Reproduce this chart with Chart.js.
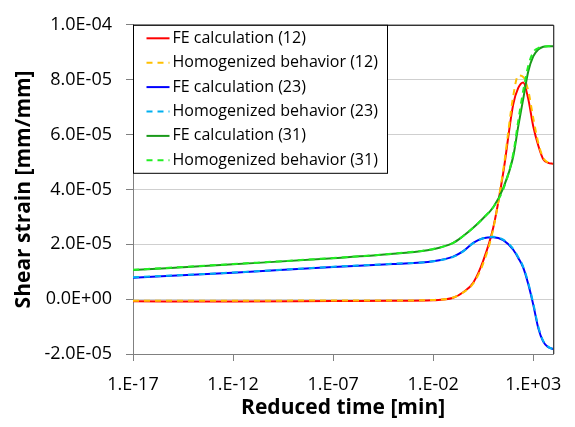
<!DOCTYPE html>
<html>
<head>
<meta charset="utf-8">
<script src="https://cdn.jsdelivr.net/npm/chart.js@4"></script>
<style>
  html, body { margin: 0; padding: 0; background: #fff; }
  #wrap { width: 575px; height: 427px; }
</style>
</head>
<body>
<div id="wrap"><canvas id="chart" width="575" height="427"></canvas></div>
<script>
// reduced time [min], log axis
const times = [1e-17, 1e-12, 1e-7, 1e-4, 1e-2, 1e-1, 0.316, 1, 3.16, 10, 31.6, 100, 178, 316, 562, 1000, 1780, 3160, 5620, 10000];

// shear strain, in units of 1E-05 mm/mm
const fe12  = [-0.08, -0.09, -0.07, -0.06, -0.04, 0.05, 0.25, 0.6, 1.4, 2.6, 4.6, 7.1, 7.7, 7.9, 7.3, 6.3, 5.6, 5.1, 4.97, 4.93];
const hom12 = [-0.06, -0.06, -0.05, -0.05, -0.03, 0.06, 0.24, 0.57, 1.3, 2.55, 4.7, 7.4, 8.15, 8.1, 7.6, 6.6, 5.7, 5.15, 4.98, 4.93];
const fe23  = [0.78, 0.96, 1.17, 1.28, 1.38, 1.55, 1.75, 2.05, 2.22, 2.26, 2.15, 1.8, 1.5, 1.15, 0.55, -0.2, -1.05, -1.55, -1.75, -1.82];
const hom23 = [0.8, 0.97, 1.18, 1.29, 1.38, 1.54, 1.74, 2.04, 2.22, 2.27, 2.17, 1.83, 1.53, 1.18, 0.6, -0.15, -1.0, -1.52, -1.74, -1.83];
const fe31  = [1.06, 1.27, 1.49, 1.65, 1.82, 2.05, 2.3, 2.6, 2.95, 3.35, 4.05, 5.2, 6.3, 7.3, 8.3, 8.85, 9.1, 9.2, 9.22, 9.22];
const hom31 = [1.07, 1.28, 1.5, 1.66, 1.83, 2.05, 2.3, 2.6, 2.95, 3.35, 4.0, 5.3, 6.5, 7.6, 8.5, 9.0, 9.15, 9.2, 9.22, 9.22];

const labels = ['FE calculation (12)', 'Homogenized behavior (12)', 'FE calculation (23)',
                'Homogenized behavior (23)', 'FE calculation (31)', 'Homogenized behavior (31)'];
const colors = ['#ff0000', '#ffc000', '#0000ff', '#00b0f0', '#1a9a1a', '#22ee22'];
const dashed = [false, true, false, true, false, true];

const xTickValues = [1e-17, 1e-12, 1e-7, 1e-2, 1e3];
const xTickLabels = ['1.E-17', '1.E-12', '1.E-07', '1.E-02', '1.E+03'];
const yTickValues = [-2e-5, 0, 2e-5, 4e-5, 6e-5, 8e-5, 1e-4];
const yTickLabels = ['-2.0E-05', '0.0E+00', '2.0E-05', '4.0E-05', '6.0E-05', '8.0E-05', '1.0E-04'];

const UNIT = 1e-5;
const series = [fe12, hom12, fe23, hom23, fe31, hom31];

const datasets = series.map((vals, i) => ({
    label: labels[i],
    data: vals.map((v, j) => ({ x: times[j], y: v * UNIT })),
    borderColor: colors[i],
    borderWidth: 2,
    borderDash: dashed[i] ? [6, 5] : [],
    pointRadius: 0,
    cubicInterpolationMode: 'monotone',
    fill: false,
    order: 6 - i
}));

// excel style legend box inside the plot + black top/right frame
const decor = {
    id: 'decor',
    beforeDraw(chart) {
        const c = chart.ctx;
        c.save();
        c.fillStyle = '#fff';
        c.fillRect(0, 0, chart.width, chart.height);
        c.restore();
    },
    afterDraw(chart) {
        const c = chart.ctx;
        const a = chart.chartArea;
        c.save();
        c.strokeStyle = '#000';
        c.lineWidth = 1;
        c.beginPath();
        c.moveTo(a.left, a.top + 0.5);
        c.lineTo(a.right + 0.5, a.top + 0.5);
        c.lineTo(a.right + 0.5, a.bottom);
        c.stroke();

        // legend
        const bx = a.left + 0.5, by = a.top + 0.5, bw = 254, bh = 148;
        c.fillStyle = '#fff';
        c.fillRect(bx, by, bw, bh);
        c.strokeStyle = '#000';
        c.strokeRect(bx, by, bw, bh);
        c.font = '16px "Open Sans"';
        c.textBaseline = 'middle';
        c.fillStyle = '#000';
        chart.data.datasets.forEach((ds, i) => {
            const y = by + 13 + i * 24.4;
            c.strokeStyle = ds.borderColor;
            c.lineWidth = 2;
            c.setLineDash(ds.borderDash);
            c.beginPath();
            c.moveTo(bx + 13, y);
            c.lineTo(bx + 36, y);
            c.stroke();
            c.setLineDash([]);
            c.fillText(ds.label, bx + 39, y);
        });
        c.restore();
    }
};

new Chart(document.getElementById('chart'), {
    type: 'line',
    data: { datasets: datasets },
    options: {
        responsive: false,
        animation: false,
        layout: { padding: { top: 15, right: 17, left: 0, bottom: 0 } },
        plugins: { legend: { display: false }, tooltip: { enabled: false } },
        scales: {
            x: {
                type: 'logarithmic',
                min: 1e-17,
                max: 1e4,
                afterBuildTicks: s => { s.ticks = xTickValues.map(v => ({ value: v })); },
                afterFit: s => { s.height = 73; },
                ticks: {
                    autoSkip: false,
                    maxRotation: 0,
                    padding: 13,
                    color: '#000',
                    font: { family: 'Open Sans', size: 18 },
                    callback: v => xTickLabels[xTickValues.indexOf(v)]
                },
                grid: { drawOnChartArea: false, tickLength: 7, tickColor: '#808080' },
                border: { color: '#808080', width: 1 },
                title: {
                    display: true,
                    text: 'Reduced time [min]',
                    color: '#000',
                    font: { family: 'Open Sans', size: 21, weight: 'bold' },
                    padding: { top: 0, bottom: 6 }
                }
            },
            y: {
                min: -2e-5,
                max: 1e-4,
                afterBuildTicks: s => { s.ticks = yTickValues.map(v => ({ value: v })); },
                afterFit: s => { s.width = 133; },
                ticks: {
                    padding: 14,
                    color: '#000',
                    font: { family: 'Open Sans', size: 18 },
                    callback: v => yTickLabels[yTickValues.indexOf(v)]
                },
                grid: { color: '#cfcfcf', tickLength: 7, tickColor: '#808080' },
                border: { color: '#808080', width: 1 },
                title: {
                    display: true,
                    text: 'Shear strain [mm/mm]',
                    color: '#000',
                    font: { family: 'Open Sans', size: 21, weight: 'bold' },
                    padding: { top: 11, bottom: 0 }
                }
            }
        }
    },
    plugins: [decor]
});
</script>
</body>
</html>
